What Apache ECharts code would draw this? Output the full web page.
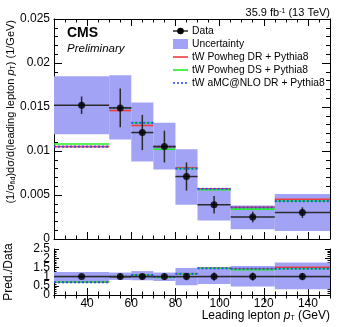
<!DOCTYPE html>
<html>
<head>
<meta charset="utf-8">
<script src="https://cdn.jsdelivr.net/npm/echarts@6/dist/echarts.min.js"></script>
<style>
html, body { margin: 0; padding: 0; background: #fff; }
#chart { width: 341px; height: 327px; }
</style>
</head>
<body>
<div id="chart"></div>
<script>
// bins in leading lepton pT (GeV)
const binLo = [25, 50, 60, 70, 80, 90, 105, 125];
const binHi = [50, 60, 70, 80, 90, 105, 125, 150];
const binCenter = [37.5, 55, 65, 75, 85, 97.5, 115, 137.5];
// normalised differential cross section (1/GeV)
const dataVal = [0.0152, 0.0149, 0.0121, 0.0105, 0.0071, 0.0039, 0.0025, 0.0030];
const dataErr = [0.0010, 0.0022, 0.0020, 0.0018, 0.0016, 0.0010, 0.0006, 0.0006];
const uncLo = [0.0119, 0.0113, 0.0088, 0.0079, 0.0039, 0.0021, 0.0011, 0.0009];
const uncHi = [0.0185, 0.0186, 0.0155, 0.0132, 0.0102, 0.0058, 0.0038, 0.0051];
const powhegDR = [0.0105, 0.0146, 0.0129, 0.0105, 0.0081, 0.0057, 0.0036, 0.0045];
const powhegDS = [0.0108, 0.0149, 0.0132, 0.0102, 0.0080, 0.0056, 0.0034, 0.0043];
const amcDR = [0.0105, 0.0149, 0.0132, 0.0105, 0.0080, 0.0057, 0.0036, 0.0043];
// ratio panel (Pred./Data)
const ratioData = [1, 1, 1, 1, 1, 1, 1, 1];
const ratioErr = [0.07, 0.15, 0.16, 0.17, 0.2, 0.22, 0.22, 0.2];
const ratioUncLo = [0.68, 0.82, 0.80, 0.76, 0.53, 0.60, 0.46, 0.31];
const ratioUncHi = [1.25, 1.22, 1.30, 1.22, 1.47, 1.49, 1.58, 1.76];
const ratioDR = [0.69, 0.98, 1.06, 0.99, 1.16, 1.46, 1.43, 1.50];
const ratioDS = [0.71, 1.00, 1.09, 0.96, 1.15, 1.45, 1.38, 1.43];
const ratioAMC = [0.69, 1.00, 1.09, 0.99, 1.15, 1.45, 1.43, 1.43];
// tick labels
const xTickLabels = [40, 60, 80, 100, 120, 140];
const yTickLabels = [0, 0.005, 0.01, 0.015, 0.02, 0.025];
const ratioTickLabels = [0, 0.5, 1, 1.5, 2, 2.5];

const FONT = '"Liberation Sans", Arial, Helvetica, sans-serif';
const BOX = "#a3a3f6";
const RED = "#f03c3c";
const GREEN = "#22ee22";
const BLUE = "#2a4dff";

const xMin = binLo[0];
const xMax = binHi[binHi.length - 1];

function xAxisPair(gridIndex, position, withLabels) {
  return [
    {
      type: "value", gridIndex, position, min: xMin, max: xMax,
      axisLine: { show: true, lineStyle: { color: "#000", width: 1 } },
      axisTick: { show: true, inside: true, length: 7, customValues: xTickLabels, lineStyle: { color: "#000" } },
      axisLabel: withLabels
        ? { show: true, customValues: xTickLabels, fontSize: 12, fontFamily: FONT, color: "#000", margin: 3 }
        : { show: false },
      splitLine: { show: false },
    },
    {
      type: "value", gridIndex, position, min: xMin, max: xMax, interval: 5,
      axisLine: { show: false },
      axisTick: { show: true, inside: true, length: 3.5, lineStyle: { color: "#000" } },
      axisLabel: { show: false },
      splitLine: { show: false },
    },
  ];
}

function yAxis(gridIndex, position, max, interval, labels, major, minor) {
  return {
    type: "value", gridIndex, position, min: 0, max, interval,
    axisLine: { show: true, lineStyle: { color: "#000", width: 1 } },
    axisTick: { show: true, inside: true, length: major, lineStyle: { color: "#000" } },
    minorTick: { show: true, splitNumber: 5, length: minor, lineStyle: { color: "#000" } },
    axisLabel: labels
      ? { show: true, customValues: labels, fontSize: 12, fontFamily: FONT, color: "#000", margin: 4 }
      : { show: false },
    splitLine: { show: false },
    minorSplitLine: { show: false },
  };
}

// label-only axis: the ratio labels overlap in the original, so split them in two sets
function labelAxis(gridIndex, max, labels) {
  return {
    type: "value", gridIndex, position: "left", min: 0, max,
    axisLine: { show: false },
    axisTick: { show: false },
    axisLabel: {
      show: true, customValues: labels, fontSize: 12, fontFamily: FONT, color: "#000", margin: 4,
      showMinLabel: true, showMaxLabel: true,
    },
    splitLine: { show: false },
  };
}

function boxSeries(xi, yi, lo, hi) {
  return {
    type: "custom", xAxisIndex: xi, yAxisIndex: yi, z: 1,
    data: binLo.map((b, i) => [b, binHi[i], lo[i], hi[i]]),
    renderItem(params, api) {
      const p1 = api.coord([api.value(0), api.value(3)]);
      const p2 = api.coord([api.value(1), api.value(2)]);
      return { type: "rect", shape: { x: p1[0], y: p1[1], width: p2[0] - p1[0], height: p2[1] - p1[1] }, style: { fill: BOX } };
    },
  };
}

function stepSeries(xi, yi, vals, color, dashed, z) {
  return {
    type: "custom", xAxisIndex: xi, yAxisIndex: yi, z,
    data: binLo.map((b, i) => [b, binHi[i], vals[i]]),
    renderItem(params, api) {
      const p1 = api.coord([api.value(0), api.value(2)]);
      const p2 = api.coord([api.value(1), api.value(2)]);
      return {
        type: "line",
        shape: { x1: p1[0], y1: p1[1], x2: p2[0], y2: p2[1] },
        style: { stroke: color, lineWidth: dashed ? 2 : 1.6, lineDash: dashed ? [2, 2] : null },
      };
    },
  };
}

function errSeries(xi, yi, vals, errs) {
  return {
    type: "custom", xAxisIndex: xi, yAxisIndex: yi, z: 6,
    data: binLo.map((b, i) => [b, binHi[i], binCenter[i], vals[i], errs[i]]),
    renderItem(params, api) {
      const v = api.value(3), e = api.value(4);
      const a = api.coord([api.value(0), v]);
      const b = api.coord([api.value(1), v]);
      const t = api.coord([api.value(2), v + e]);
      const d = api.coord([api.value(2), v - e]);
      const st = { stroke: "#2a2a2a", lineWidth: 1.5 };
      return {
        type: "group",
        children: [
          { type: "line", shape: { x1: a[0], y1: a[1], x2: b[0], y2: b[1] }, style: st },
          { type: "line", shape: { x1: t[0], y1: t[1], x2: d[0], y2: d[1] }, style: st },
        ],
      };
    },
  };
}

function pointSeries(xi, yi, vals) {
  return {
    type: "scatter", xAxisIndex: xi, yAxisIndex: yi, z: 7,
    symbol: "circle", symbolSize: 7,
    itemStyle: { color: "#000" },
    data: binCenter.map((c, i) => [c, vals[i]]),
  };
}

const sub = { fontSize: 7, fontFamily: FONT, lineHeight: 7, verticalAlign: "bottom", fill: "#000" };
const sup = { fontSize: 7, fontFamily: FONT, lineHeight: 7, verticalAlign: "top", fill: "#000" };
const ital = { fontSize: 11, fontFamily: FONT, fontStyle: "italic", fill: "#000" };
const italX = { fontSize: 12, fontFamily: FONT, fontStyle: "italic", fill: "#000" };

const legendRows = [
  { label: "Data", y: 31 },
  { label: "Uncertainty", y: 44 },
  { label: "tW Powheg DR + Pythia8", y: 57 },
  { label: "tW Powheg DS + Pythia8", y: 70 },
  { label: "tW aMC@NLO DR + Pythia8", y: 83 },
];
const lx0 = 173, lx1 = 188;
const legendGraphics = [
  { type: "line", shape: { x1: lx0, y1: legendRows[0].y, x2: lx1, y2: legendRows[0].y }, style: { stroke: "#2a2a2a", lineWidth: 1.5 } },
  { type: "circle", shape: { cx: (lx0 + lx1) / 2, cy: legendRows[0].y, r: 3.3 }, style: { fill: "#000" } },
  { type: "rect", shape: { x: lx0, y: legendRows[1].y - 5, width: lx1 - lx0, height: 10 }, style: { fill: BOX } },
  { type: "line", shape: { x1: lx0, y1: legendRows[2].y, x2: lx1, y2: legendRows[2].y }, style: { stroke: RED, lineWidth: 1.6 } },
  { type: "line", shape: { x1: lx0, y1: legendRows[3].y, x2: lx1, y2: legendRows[3].y }, style: { stroke: GREEN, lineWidth: 1.6 } },
  { type: "line", shape: { x1: lx0, y1: legendRows[4].y, x2: lx1, y2: legendRows[4].y }, style: { stroke: BLUE, lineWidth: 1.6, lineDash: [2, 2] } },
].concat(legendRows.map((r) => ({
  type: "text", x: 192, y: r.y,
  style: { text: r.label, fontSize: 10.3, fontFamily: FONT, fill: "#000", align: "left", verticalAlign: "middle" },
})));

const chart = echarts.init(document.getElementById("chart"));
chart.setOption({
  animation: false,
  grid: [
    { left: 54, top: 19, width: 276, height: 220 },
    { left: 54, top: 249, width: 276, height: 46 },
  ],
  xAxis: [].concat(
    xAxisPair(0, "bottom", false),
    xAxisPair(0, "top", false),
    xAxisPair(1, "bottom", true),
    xAxisPair(1, "top", false)
  ),
  yAxis: [
    yAxis(0, "left", 0.025, 0.005, yTickLabels, 8, 4),
    yAxis(0, "right", 0.025, 0.005, null, 8, 4),
    yAxis(1, "left", 2.5, 0.5, null, 5, 2.5),
    yAxis(1, "right", 2.5, 0.5, null, 5, 2.5),
    labelAxis(1, 2.5, ratioTickLabels.filter((v, i) => i % 2 === 0)),
    labelAxis(1, 2.5, ratioTickLabels.filter((v, i) => i % 2 === 1)),
  ],
  series: [
    boxSeries(0, 0, uncLo, uncHi),
    stepSeries(0, 0, powhegDR, RED, false, 3),
    stepSeries(0, 0, powhegDS, GREEN, false, 4),
    stepSeries(0, 0, amcDR, BLUE, true, 5),
    errSeries(0, 0, dataVal, dataErr),
    pointSeries(0, 0, dataVal),
    boxSeries(4, 2, ratioUncLo, ratioUncHi),
    {
      type: "line", xAxisIndex: 4, yAxisIndex: 2, z: 2, symbol: "none",
      lineStyle: { color: "#000", width: 1 },
      data: [[xMin, 1], [xMax, 1]],
    },
    stepSeries(4, 2, ratioDR, RED, false, 3),
    stepSeries(4, 2, ratioDS, GREEN, false, 4),
    stepSeries(4, 2, ratioAMC, BLUE, true, 5),
    errSeries(4, 2, ratioData, ratioErr),
    pointSeries(4, 2, ratioData),
  ],
  graphic: [
    {
      type: "text", x: 330, y: 13,
      style: {
        text: "35.9 fb{sup|-1} (13 TeV)", fontSize: 11, fontFamily: FONT, fill: "#000",
        align: "right", verticalAlign: "middle", rich: { sup },
      },
    },
    {
      type: "text", x: 67, y: 33,
      style: { text: "CMS", fontSize: 14, fontWeight: "bold", fontFamily: FONT, fill: "#000", align: "left", verticalAlign: "middle" },
    },
    {
      type: "text", x: 67, y: 49,
      style: { text: "Preliminary", fontSize: 11.5, fontStyle: "italic", fontFamily: FONT, fill: "#000", align: "left", verticalAlign: "middle" },
    },
    {
      type: "text", x: 11, y: 20, rotation: Math.PI / 2,
      style: {
        text: "(1/σ{sub|fid})dσ/d(leading lepton {it|p}{sub|T}) (1/GeV)",
        fontSize: 11, fontFamily: FONT, fill: "#000", align: "right", verticalAlign: "middle",
        rich: { sub, it: ital },
      },
    },
    {
      type: "text", x: 9, y: 272, rotation: Math.PI / 2,
      style: { text: "Pred./Data", fontSize: 12, fontFamily: FONT, fill: "#000", align: "center", verticalAlign: "middle" },
    },
    {
      type: "text", x: 330, y: 316,
      style: {
        text: "Leading lepton {it|p}{sub|T} (GeV)",
        fontSize: 12, fontFamily: FONT, fill: "#000", align: "right", verticalAlign: "middle",
        rich: { sub, it: italX },
      },
    },
  ].concat(legendGraphics),
});
</script>
</body>
</html>
